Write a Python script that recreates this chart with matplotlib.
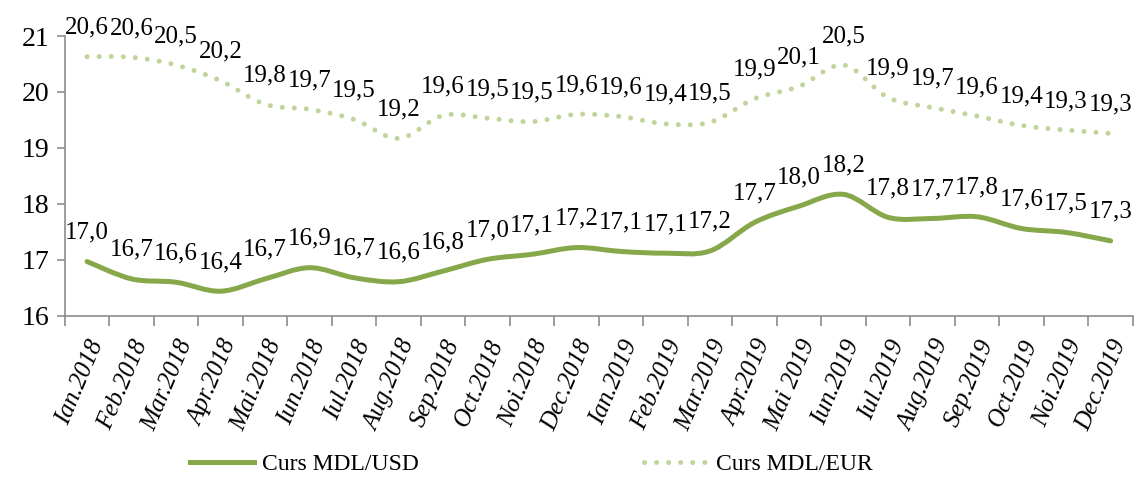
import numpy as np
import matplotlib
matplotlib.use("Agg")
import matplotlib.pyplot as plt
from matplotlib.path import Path
from matplotlib.patches import PathPatch
from matplotlib.lines import Line2D

luni = ["Ian.2018", "Feb.2018", "Mar.2018", "Apr.2018", "Mai.2018", "Iun.2018",
        "Iul.2018", "Aug.2018", "Sep.2018", "Oct.2018", "Noi.2018", "Dec.2018",
        "Ian.2019", "Feb.2019", "Mar.2019", "Apr.2019", "Mai 2019", "Iun.2019",
        "Iul.2019", "Aug.2019", "Sep.2019", "Oct.2019", "Noi.2019", "Dec.2019"]

curs_usd = [16.97, 16.66, 16.60, 16.44, 16.66, 16.86, 16.68, 16.61, 16.80, 17.01, 17.10, 17.22,
            17.15, 17.12, 17.16, 17.67, 17.96, 18.17, 17.76, 17.74, 17.77, 17.56, 17.49, 17.34]
curs_eur = [20.63, 20.62, 20.48, 20.20, 19.78, 19.69, 19.51, 19.17, 19.58, 19.53, 19.47, 19.60,
            19.56, 19.43, 19.46, 19.88, 20.10, 20.48, 19.90, 19.72, 19.57, 19.40, 19.32, 19.26]

verde = "#86a84a"
verde_deschis = "#bfd59c"
gri = "#8c8c8c"

plt.rcParams["font.family"] = ["Liberation Serif", "DejaVu Serif"]


# curba netezita (Catmull-Rom -> Bezier), ca in Excel
def curba(x, y):
    p = np.column_stack([x, y])
    ext = np.vstack([p[0], p, p[-1]])
    verts = [p[0]]
    codes = [Path.MOVETO]
    for i in range(len(p) - 1):
        p0, p1, p2, p3 = ext[i], ext[i + 1], ext[i + 2], ext[i + 3]
        verts += [p1 + (p2 - p0) / 6, p2 - (p3 - p1) / 6, p2]
        codes += [Path.CURVE4] * 3
    return Path(verts, codes)


fig = plt.figure(figsize=(11.38, 4.8), dpi=100)
ax = fig.add_axes([0.057, 0.342, 0.9385, 0.583])

x = np.arange(len(luni))
ax.add_patch(PathPatch(curba(x, curs_usd), facecolor="none", edgecolor=verde,
                       lw=3.6, capstyle="round", joinstyle="round"))
ax.add_patch(PathPatch(curba(x, curs_eur), facecolor="none", edgecolor=verde_deschis,
                       lw=3.6, linestyle=(0, (0.01, 2.4)), capstyle="round"))

for serie in (curs_usd, curs_eur):
    for xi, v in zip(x, serie):
        ax.annotate(f"{v:.1f}".replace(".", ","), (xi, v), xytext=(0, 13),
                    textcoords="offset points", ha="center", va="bottom", fontsize=18)

ax.set_xlim(-0.5, len(luni) - 0.5)
ax.set_ylim(16, 21)
ax.set_yticks(range(16, 22))
ax.set_xticks(x)
ax.set_xticklabels(luni, rotation=67, ha="right", va="top", rotation_mode="anchor",
                   style="italic", fontsize=18)
ax.set_xticks(np.arange(-0.5, len(luni), 1), minor=True)
ax.tick_params(axis="x", which="major", length=0, pad=15)
ax.tick_params(axis="x", which="minor", length=7, color=gri, width=1.2)
ax.tick_params(axis="y", length=6, color=gri, width=1.2, labelsize=20, pad=5)

for s in ("top", "right"):
    ax.spines[s].set_visible(False)
for s in ("left", "bottom"):
    ax.spines[s].set_color(gri)
    ax.spines[s].set_linewidth(1.2)

handles = [Line2D([], [], color=verde, lw=3.6),
           Line2D([], [], color=verde_deschis, lw=3.6, linestyle=(0, (0.01, 2.4)),
                  dash_capstyle="round")]
fig.legend(handles, ["Curs MDL/USD", "Curs MDL/EUR"], loc="center",
           bbox_to_anchor=(0.467, 0.032), ncol=2, frameon=False, fontsize=17,
           handlelength=2.7, handletextpad=0.35, columnspacing=9.5)

fig.savefig("out.png", dpi=100)
